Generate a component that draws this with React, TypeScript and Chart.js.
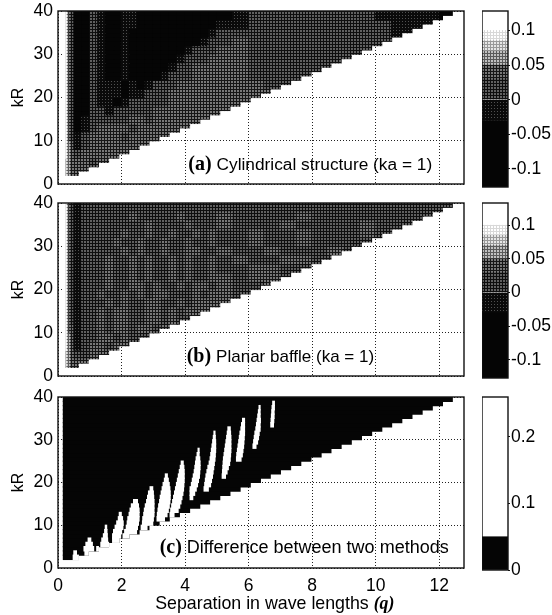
import React, { useEffect, useRef } from "react";
import { Chart, registerables } from "chart.js";

Chart.register(...registerables);

const SANS = '"Liberation Sans", Arial, sans-serif';
const SERIF = '"Liberation Serif", "Times New Roman", serif';

// Row k of the maps spans kR in [k, k + 1]
const kRRows = [2,3,4,5,6,7,8,9,10,11,12,13,14,15,16,17,18,19,20,21,22,23,24,25,26,27,28,29,30,31,32,33,34,35,36,37,38,39];
const rowEnds = [0.64,0.95,1.27,1.59,1.91,2.23,2.55,2.86,3.18,3.5,3.82,4.14,4.46,4.77,5.09,5.41,5.73,6.05,6.37,6.68,7.0,7.32,7.64,7.96,8.28,8.59,8.91,9.23,9.55,9.87,10.19,10.5,10.82,11.14,11.46,11.78,12.1,12.41];
const qEdges = [0.15,0.25,0.3,0.35,0.4,0.5,0.75,1,1.25,1.5,1.75,2,2.25,2.5,2.75,3,3.25,3.5,3.75,4,4.25,4.5,4.75,5,5.5,6,6.5,7,7.5,8,8.5,9,9.5,10,10.5,11,11.5,12,12.5];

// Grey levels 0 (black) to 7 (white), two-kR bands from kR 2 upward
const cylinderLevels = [
  "75443333333",
  "75443332333",
  "76443233333",
  "7644312333333",
  "76432123333233333",
  "7643201233332333333",
  "764320122222332333333",
  "76432002212222233333333",
  "764320021101222223333333333333",
  "7643200211101122233333333333333",
  "76432002111010122233333333222222",
  "764320021001000012223333322222221",
  "7643200210010000012233333222222221",
  "76432002100100000012223332222222221",
  "764320021001000000012223322222222211",
  "7643200210010000000001223222222222111",
  "76432002100100000000001222222222221111",
  "764320021001100000000001122222222211100",
  "764320021001100000000000122222222111100",
];
const baffleLevels = [
  "75443333333",
  "75443223333",
  "76443123323",
  "7644312233232",
  "76433122323323323",
  "7643212232332233232",
  "764321223233223323233",
  "76432122232322332232333",
  "764321223223232332223233223223",
  "7643212223223323223233232232333",
  "76432122232232322323223323322322",
  "764321222322323223232232233223222",
  "7643212223223232232322323223322322",
  "76432122222323223223322322322232222",
  "764321222232232232232232232232222322",
  "7643212222232232232232322322322232222",
  "76432122222222322223222322232222322222",
  "764321222222322222322223222232222222222",
  "764321222222222222222222222222222222222",
];

// Panel (c): white [from, to] gaps in each row, everything else in the row is black
const diffStart = 0.17;
const diffGaps: number[][][] = [
  [[0.48,0.64]],
  [[0.5,0.58],[0.85,0.95]],
  [[0.82,1.12],[1.22,1.27]],
  [[0.88,1.08],[1.35,1.59]],
  [[0.95,1.03],[1.38,1.56],[1.72,1.91]],
  [[1.43,1.55],[1.72,1.97],[2.05,2.23]],
  [[1.47,1.54],[1.75,2.0],[2.1,2.47]],
  [[1.49,1.53],[1.8,2.04],[2.15,2.5],[2.62,2.8]],
  [[1.85,2.05],[2.18,2.53],[2.66,2.98]],
  [[1.9,2.03],[2.2,2.55],[2.67,3.0],[3.12,3.35]],
  [[1.93,1.99],[2.24,2.55],[2.7,3.02],[3.13,3.43],[3.53,3.65]],
  [[2.27,2.55],[2.72,3.02],[3.15,3.47],[3.55,3.78]],
  [[2.31,2.53],[2.75,3.02],[3.17,3.5],[3.58,3.83]],
  [[2.38,2.5],[2.79,3.02],[3.2,3.52],[3.61,3.87]],
  [[2.82,3.01],[3.22,3.53],[3.64,3.9],[4.16,4.24]],
  [[2.85,3.0],[3.25,3.53],[3.67,3.93],[4.16,4.3]],
  [[2.9,2.98],[3.28,3.52],[3.7,3.95],[4.16,4.35],[4.6,4.73]],
  [[3.31,3.5],[3.73,3.96],[4.2,4.39],[4.62,4.8]],
  [[3.35,3.47],[3.76,3.97],[4.23,4.42],[4.64,4.83]],
  [[3.38,3.44],[3.79,3.97],[4.26,4.45],[4.66,4.86],[5.17,5.27]],
  [[3.82,3.97],[4.29,4.46],[4.69,4.88],[5.18,5.32]],
  [[3.85,3.96],[4.31,4.47],[4.72,4.9],[5.19,5.36]],
  [[3.88,3.94],[4.33,4.47],[4.76,4.92],[5.2,5.4]],
  [[4.35,4.46],[4.79,4.94],[5.21,5.42],[5.62,5.76]],
  [[4.38,4.44],[4.81,4.95],[5.23,5.43],[5.63,5.8]],
  [[4.41,4.44],[4.83,4.96],[5.25,5.44],[5.65,5.82]],
  [[4.85,4.96],[5.27,5.44],[5.67,5.84],[6.14,6.23]],
  [[4.87,4.96],[5.29,5.44],[5.69,5.85],[6.16,6.28]],
  [[4.89,4.95],[5.31,5.44],[5.71,5.86],[6.18,6.31]],
  [[4.91,4.94],[5.33,5.43],[5.73,5.87],[6.2,6.33]],
  [[5.35,5.42],[5.76,5.87],[6.23,6.36]],
  [[5.78,5.87],[6.25,6.36],[6.7,6.78]],
  [[5.81,5.87],[6.27,6.37],[6.71,6.79]],
  [[6.29,6.36],[6.72,6.8]],
  [[6.31,6.36],[6.73,6.8]],
  [[6.33,6.36],[6.74,6.81]],
  [[6.76,6.81]],
  [],
];

const qTicks = [0,2,4,6,8,10,12];
const kRTicks = [0,10,20,30,40];

// Colour bars: [low, high, level]
const signedBarBands = [[-0.13,-0.03,0],[-0.03,0,1],[0,0.03,2],[0.03,0.05,3],[0.05,0.07,4],[0.07,0.085,5],[0.085,0.1,6],[0.1,0.135,7]];
const signedBarTicks = [-0.1,-0.05,0,0.05,0.1];
const diffBarBands = [[0,0.05,0],[0.05,0.26,7]];
const diffBarTicks = [0,0.1,0.2];

// Halftone looks of the grey levels: [ink, dot, tile px, dot px]
const halftones: [string,string,number,number][] = [
  ["#050505","#050505",1,1],
  ["#0a0a0a","#505050",3,1],
  ["#0e0e0e","#606060",3,2],
  ["#161616","#787878",3,2],
  ["#5a5a5a","#c0c0c0",3,2],
  ["#999999","#e6e6e6",3,2],
  ["#d8d8d8","#ffffff",3,2],
  ["#ffffff","#ffffff",1,1],
];

function levelFill(level: number): string | CanvasPattern {
  const [ink, dot, n, d] = halftones[level];
  if (ink === dot) return ink;
  const c = document.createElement("canvas");
  c.width = n; c.height = n;
  const g = c.getContext("2d")!;
  g.fillStyle = ink; g.fillRect(0,0,n,n);
  g.fillStyle = dot; g.fillRect(0,0,d,d);
  return g.createPattern(c,"repeat")!;
}

type Seg = { text: string; font: string };
type Label = { q: number; kR: number; segs: Seg[] };

const panelLabelPlugin = {
  id: "panelLabel",
  afterDraw(chart: any, _a: any, opts: any) {
    const { ctx, scales, chartArea } = chart;
    ctx.save();
    ctx.strokeStyle = "#111";
    ctx.lineWidth = 1.4;
    ctx.strokeRect(chartArea.left, chartArea.top, chartArea.right - chartArea.left, chartArea.bottom - chartArea.top);
    ctx.fillStyle = "#000";
    ctx.textBaseline = "alphabetic";
    ctx.textAlign = "left";
    for (const l of (opts.labels || []) as Label[]) {
      let x = scales.x.getPixelForValue(l.q);
      const y = scales.y.getPixelForValue(l.kR);
      for (const s of l.segs) {
        ctx.font = s.font;
        ctx.fillText(s.text, x, y);
        x += ctx.measureText(s.text).width;
      }
    }
    ctx.restore();
  },
};

const boldSerif = `bold 20px ${SERIF}`;

const cellStyle = { borderWidth: 0, inflateAmount: 0.6, grouped: false, barPercentage: 1, categoryPercentage: 1 };

function mapCells(levels: string[]) {
  const data: any[] = []; const fills: any[] = [];
  const cache = new Map<string, any>();
  kRRows.forEach((k, r) => {
    const band = levels[Math.floor(r / 2)];
    for (let i = 0; i < qEdges.length - 1 && i < band.length; i++) {
      if (qEdges[i] >= rowEnds[r]) break;
      const lv = band[i];
      if (!cache.has(lv)) cache.set(lv, levelFill(+lv));
      data.push({ x: [qEdges[i], Math.min(qEdges[i+1], rowEnds[r])], y: k + 0.5 });
      fills.push(cache.get(lv));
    }
    const last = band.length < qEdges.length - 1 ? qEdges[band.length] : 99;
    if (last < rowEnds[r]) {
      const lv = band[band.length - 1];
      if (!cache.has(lv)) cache.set(lv, levelFill(+lv));
      data.push({ x: [last, rowEnds[r]], y: k + 0.5 });
      fills.push(cache.get(lv));
    }
  });
  return [{ data, backgroundColor: fills, ...cellStyle }];
}

function diffCells() {
  const black = kRRows.map((k, r) => ({ x: [diffStart, rowEnds[r]], y: k + 0.5 }));
  const white: any[] = [];
  kRRows.forEach((k, r) => diffGaps[r].forEach((g) => white.push({ x: g, y: k + 0.5 })));
  return [
    { data: white, backgroundColor: "#ffffff", ...cellStyle },
    { data: black, backgroundColor: "#050505", ...cellStyle },
  ];
}

const tickFont = { family: SANS, size: 17.5 };

function mapConfig(datasets: any[], o: { xHeight: number; top: number; showX: boolean; labels: Label[] }) {
  return {
    type: "bar",
    data: { datasets },
    plugins: [panelLabelPlugin],
    options: {
      indexAxis: "y",
      animation: false,
      responsive: false,
      events: [],
      layout: { padding: { top: o.top, right: 6, left: 0, bottom: 0 } },
      plugins: { legend: { display: false }, tooltip: { enabled: false }, panelLabel: { labels: o.labels } },
      scales: {
        x: {
          type: "linear", min: 0, max: 12.78, offset: false,
          afterBuildTicks: (s: any) => { s.ticks = qTicks.map((value) => ({ value })); },
          afterFit: (s: any) => { s.height = o.xHeight; s.paddingLeft = 0; s.paddingRight = 0; },
          grid: { offset: false, color: "#222", lineWidth: 1, drawTicks: false },
          border: { display: false, dash: [1, 2] },
          ticks: { display: o.showX, font: tickFont, color: "#000", padding: 8, maxRotation: 0, autoSkip: false, callback: (v: any) => String(v) },
        },
        y: {
          type: "linear", min: 0, max: 40, offset: false,
          afterBuildTicks: (s: any) => { s.ticks = kRTicks.map((value) => ({ value })); },
          afterFit: (s: any) => { s.width = 58; s.paddingTop = 0; s.paddingBottom = 0; },
          grid: { offset: false, color: "#222", lineWidth: 1, drawTicks: false },
          border: { display: false, dash: [1, 2] },
          ticks: { font: tickFont, color: "#000", padding: 5, autoSkip: false, callback: (v: any) => String(v) },
          title: { display: true, text: "kR", font: { family: SANS, size: 16 }, color: "#000", padding: { top: 9, bottom: 0 } },
        },
      },
    },
  };
}

function barConfig(bands: number[][], ticks: number[], min: number, max: number, top: number, bottom: number) {
  return {
    type: "bar",
    data: {
      labels: [""],
      datasets: bands.map(([lo, hi, lv]) => ({
        data: [[lo, hi]], backgroundColor: levelFill(lv), borderWidth: 0, grouped: false, barPercentage: 1, categoryPercentage: 1,
      })),
    },
    plugins: [panelLabelPlugin],
    options: {
      animation: false,
      responsive: false,
      events: [],
      layout: { padding: { top, left: 0, right: 0, bottom } },
      plugins: { legend: { display: false }, tooltip: { enabled: false }, panelLabel: { labels: [] } },
      scales: {
        x: { display: false },
        y: {
          position: "right", type: "linear", min, max,
          afterBuildTicks: (s: any) => { s.ticks = ticks.map((value) => ({ value })); },
          afterFit: (s: any) => { s.width = 44; s.paddingTop = 0; s.paddingBottom = 0; },
          grid: { drawOnChartArea: false, color: "#111", tickLength: 2 },
          border: { display: false },
          ticks: { font: tickFont, color: "#000", padding: 1, autoSkip: false, callback: (v: any) => String(v) },
        },
      },
    },
  };
}

const sansSeg = (text: string, size: number): Seg => ({ text, font: `${size}px ${SANS}` });

export default function App() {
  const refs = useRef<(HTMLCanvasElement | null)[]>([]);
  useEffect(() => {
    const charts = [
      mapConfig(mapCells(cylinderLevels), { xHeight: 6, top: 11, showX: false, labels: [
        { q: 4.1, kR: 3.3, segs: [{ text: "(a) ", font: boldSerif }, sansSeg("Cylindrical structure (ka = 1)", 17.3)] },
      ] }),
      mapConfig(mapCells(baffleLevels), { xHeight: 6, top: 13, showX: false, labels: [
        { q: 4.05, kR: 3.3, segs: [{ text: "(b) ", font: boldSerif }, sansSeg("Planar baffle (ka = 1)", 17)] },
      ] }),
      mapConfig(diffCells(), { xHeight: 47, top: 12, showX: true, labels: [
        { q: 3.2, kR: 3.4, segs: [{ text: "(c) ", font: boldSerif }, sansSeg("Difference between two methods", 18)] },
        { q: 3.06, kR: -9.6, segs: [{ text: "Separation in wave lengths ", font: `17.8px ${SANS}` }, { text: "(q)", font: `italic bold 17.8px ${SERIF}` }] },
      ] }),
      barConfig(signedBarBands, signedBarTicks, -0.126, 0.128, 11, 10),
      barConfig(signedBarBands, signedBarTicks, -0.127, 0.133, 13, 10),
      barConfig(diffBarBands, diffBarTicks, 0, 0.26, 12, 10),
    ];
    const made = charts.map((cfg, i) => new Chart(refs.current[i]!, cfg as any));
    return () => made.forEach((c) => c.destroy());
  }, []);

  const boxes = [
    { left: 0, top: 0, width: 470, height: 190 },
    { left: 0, top: 190, width: 470, height: 192 },
    { left: 0, top: 385, width: 470, height: 230 },
    { left: 482, top: 0, width: 70, height: 197 },
    { left: 482, top: 190, width: 70, height: 198 },
    { left: 482, top: 385, width: 70, height: 195 },
  ];
  return (
    <div style={{ position: "absolute", left: 0, top: 0, width: 552, height: 615, background: "#fff" }}>
      {boxes.map((b, i) => (
        <canvas key={i} ref={(el) => { refs.current[i] = el; }} width={b.width} height={b.height}
          style={{ position: "absolute", left: b.left, top: b.top, width: b.width, height: b.height }} />
      ))}
    </div>
  );
}
